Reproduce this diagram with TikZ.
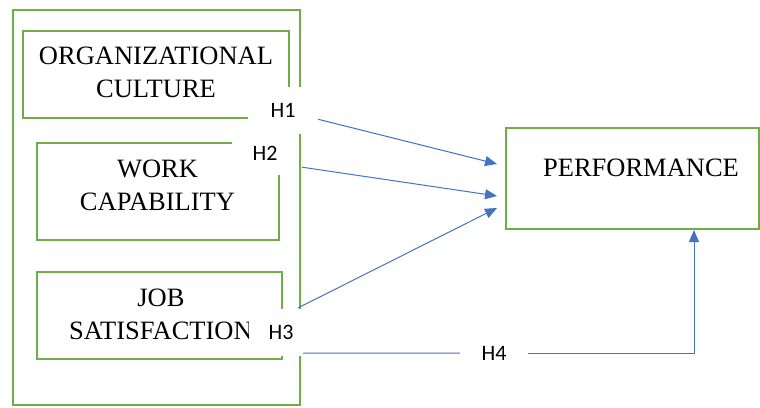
\documentclass[tikz,border=0pt]{standalone}
\usepackage{fontspec}
\setmainfont{Liberation Serif}
\newfontfamily\hypfont{Carlito}
\usetikzlibrary{arrows.meta}

\begin{document}
\begin{tikzpicture}[x=1pt,y=-1pt,
    greenbox/.style={draw=boxgreen,line width=2pt,inner sep=0pt},
    boxtext/.style={align=center,font=\fontsize{26.5}{33}\selectfont},
    hyplabel/.style={fill=white,inner sep=0pt,font=\hypfont\fontsize{22}{26}\selectfont},
    hypline/.style={draw=arrowblue,line width=1pt},
    hyparrow/.style={hypline,-{Triangle[length=12pt,width=10pt]}}]
  \definecolor{boxgreen}{HTML}{70AD47}
  \definecolor{arrowblue}{HTML}{4472C4}

  \useasboundingbox (0,0) rectangle (760,407);

  % kotak variabel
  \node[greenbox,minimum width=287,minimum height=395] (frame) at (156.5,207.5) {};
  \node[greenbox,minimum width=266,minimum height=87] (oc) at (156,74.5) {};
  \node[greenbox,minimum width=242,minimum height=97] (wc) at (158,191.5) {};
  \node[greenbox,minimum width=245,minimum height=87] (js) at (159.5,315.5) {};
  \node[greenbox,minimum width=253,minimum height=101] (perf) at (632.5,178.5) {};

  \node[boxtext] (octext) at ([yshift=2.5pt]oc.center) {ORGANIZATIONAL\\CULTURE};
  \node[boxtext] (wctext) at ([xshift=-0.5pt,yshift=6.5pt]wc.center) {WORK\\CAPABILITY};
  \node[boxtext] (jstext) at ([xshift=1.5pt,yshift=1.5pt]js.center) {JOB\\SATISFACTION};
  \node[boxtext] (perftext) at ([xshift=8.5pt,yshift=10.5pt]perf.center) {PERFORMANCE};

  % label hipotesis
  \node[hyplabel,minimum width=70,minimum height=47] (h1) at (283,110.5) {H1};
  \node[hyplabel,minimum width=66,minimum height=43] (h2) at (265,153.5) {H2};
  \node[hyplabel,minimum width=56,minimum height=47] (h3) at (277,332.5) {\hspace*{8pt}H3};

  \coordinate (t1) at ([xshift=-8pt,yshift=14.5pt]perf.west);
  \coordinate (t2) at ([xshift=-8pt,yshift=-17.5pt]perf.west);
  \coordinate (t3) at ([xshift=-8pt,yshift=-29.5pt]perf.west);

  \draw[hyparrow] (h1) -- (t1);
  \draw[hyparrow] ([xshift=4pt,yshift=8pt]h2.south east) -- (t2);
  \draw[hyparrow] ([xshift=-7pt,yshift=1pt]h3.north east) -- (t3);

  \node[hyplabel,minimum width=68,minimum height=24] (h4) at (494,353) {H4};
  \draw[hypline] ([xshift=-2pt,yshift=3pt]h3.south east) -- (h4.west);
  \draw[hyparrow] (h4.east) -| ([xshift=61.5pt]perf.south);
\end{tikzpicture}
\end{document}
